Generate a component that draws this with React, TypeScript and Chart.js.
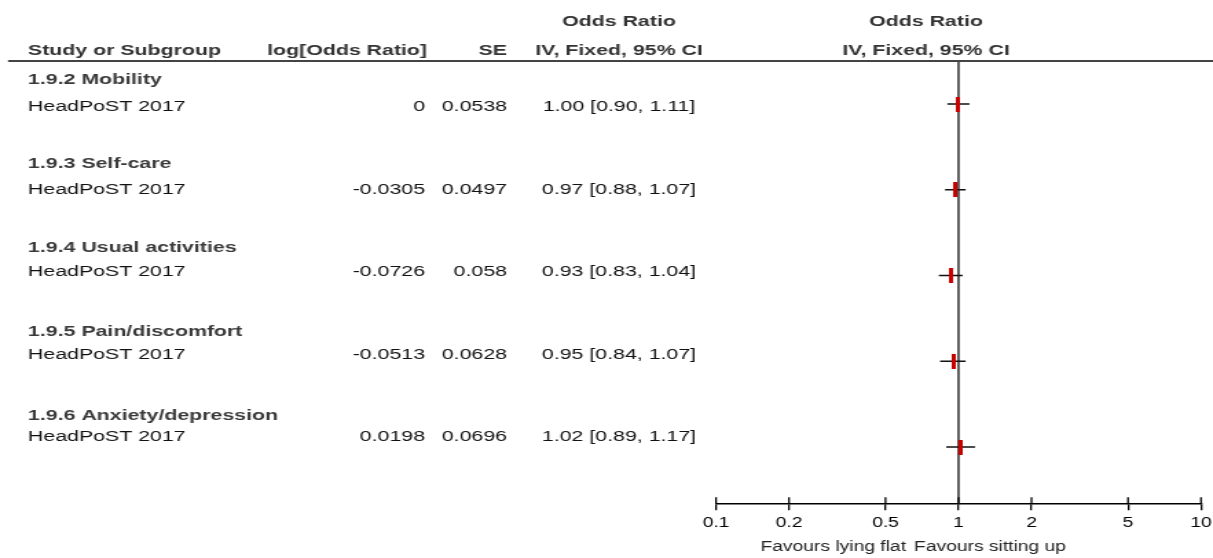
import React, { useEffect, useRef } from "react";
import { Chart, registerables } from "chart.js";

Chart.register(...registerables);

// ---------- data ----------
const subgroups = [
  "1.9.2 Mobility",
  "1.9.3 Self-care",
  "1.9.4 Usual activities",
  "1.9.5 Pain/discomfort",
  "1.9.6 Anxiety/depression",
];
const studies = ["HeadPoST 2017", "HeadPoST 2017", "HeadPoST 2017", "HeadPoST 2017", "HeadPoST 2017"];
const logOddsRatio = [0, -0.0305, -0.0726, -0.0513, 0.0198];
const standardErrors = [0.0538, 0.0497, 0.058, 0.0628, 0.0696];
const oddsRatios = [1.0, 0.97, 0.93, 0.95, 1.02];
const ciLower = [0.9, 0.88, 0.83, 0.84, 0.89];
const ciUpper = [1.11, 1.07, 1.04, 1.07, 1.17];
const xTicks = [0.1, 0.2, 0.5, 1, 2, 5, 10];
const headerTop = ["Odds Ratio", "Odds Ratio"];
const headerCols = ["Study or Subgroup", "log[Odds Ratio]", "SE", "IV, Fixed, 95% CI", "IV, Fixed, 95% CI"];
const favoursLeft = "Favours lying flat";
const favoursRight = "Favours sitting up";

// ---------- layout ----------
const PAGE_W = 1213;
const PAGE_H = 558;
const W = 882; // drawing width, stretched horizontally to the page width
const H = PAGE_H;
const S = PAGE_W / W;
const px = (pageX: number) => pageX / S;
const FONT = '"Liberation Sans", Arial, Helvetica, sans-serif';
const headingY = (i: number) => 80 + 84 * i;
const studyY = (i: number) => 107 + 82.5 * i;

export default function App() {
  const ref = useRef<HTMLCanvasElement | null>(null);

  useEffect(() => {
    const canvas = ref.current;
    if (!canvas) return;

    const box = document.createElement("canvas");
    box.width = 3;
    box.height = 15;
    const bctx = box.getContext("2d")!;
    bctx.fillStyle = "#c80000";
    bctx.fillRect(0, 0, 3, 15);

    const whiskers = oddsRatios.map((_, i) => ({
      type: "scatter" as const,
      data: [
        { x: ciLower[i], y: i },
        { x: ciUpper[i], y: i },
      ],
      showLine: true,
      borderColor: "#111",
      borderWidth: 1.5,
      pointRadius: 0,
    }));

    const tablePlugin = {
      id: "forestTable",
      beforeDatasetsDraw(chart: any) {
        const ctx = chart.ctx;
        const xs = chart.scales.x;
        const { top, bottom } = chart.chartArea;
        const x1 = xs.getPixelForValue(1);
        ctx.save();
        ctx.strokeStyle = "#3a3a3a";
        ctx.lineWidth = 1.6;
        ctx.beginPath();
        ctx.moveTo(x1, top);
        ctx.lineTo(x1, bottom);
        ctx.stroke();
        ctx.restore();
      },
      afterDraw(chart: any) {
        const ctx = chart.ctx;
        const xs = chart.scales.x;
        const { bottom } = chart.chartArea;
        ctx.save();

        // tick marks extending upward
        ctx.strokeStyle = "#000";
        ctx.lineWidth = 1.3;
        xTicks.forEach((v) => {
          const x = xs.getPixelForValue(v);
          ctx.beginPath();
          ctx.moveTo(x, bottom - 7);
          ctx.lineTo(x, bottom);
          ctx.stroke();
        });

        // header separator
        ctx.strokeStyle = "#444";
        ctx.lineWidth = 2;
        ctx.beginPath();
        ctx.moveTo(px(8), 61);
        ctx.lineTo(W, 61);
        ctx.stroke();

        ctx.textBaseline = "middle";
        // headers
        ctx.fillStyle = "#333";
        ctx.font = `bold 15.5px ${FONT}`;
        ctx.textAlign = "center";
        ctx.fillText(headerTop[0], px(619), 22);
        ctx.fillText(headerTop[1], px(926), 22);
        ctx.textAlign = "left";
        ctx.fillText(headerCols[0], px(28), 51);
        ctx.textAlign = "right";
        ctx.fillText(headerCols[1], px(427), 51);
        ctx.fillText(headerCols[2], px(507), 51);
        ctx.textAlign = "center";
        ctx.fillText(headerCols[3], px(619), 51);
        ctx.fillText(headerCols[4], px(926), 51);

        // rows
        subgroups.forEach((name, i) => {
          const yHead = headingY(i);
          const yRow = studyY(i);
          ctx.font = `bold 15.5px ${FONT}`;
          ctx.fillStyle = "#3a3a3a";
          ctx.textAlign = "left";
          ctx.fillText(name, px(28), yHead);

          ctx.font = `15.5px ${FONT}`;
          ctx.fillStyle = "#111";
          ctx.textAlign = "left";
          ctx.fillText(studies[i], px(28), yRow);
          ctx.textAlign = "right";
          ctx.fillText(String(logOddsRatio[i]), px(425), yRow);
          ctx.fillText(String(standardErrors[i]), px(507), yRow);
          ctx.textAlign = "center";
          ctx.fillText(
            `${oddsRatios[i].toFixed(2)} [${ciLower[i].toFixed(2)}, ${ciUpper[i].toFixed(2)}]`,
            px(619),
            yRow
          );
        });

        // favours labels
        ctx.font = `14px ${FONT}`;
        ctx.fillStyle = "#222";
        ctx.textAlign = "right";
        ctx.fillText(favoursLeft, px(906), 547);
        ctx.textAlign = "left";
        ctx.fillText(favoursRight, px(914), 547);
        ctx.restore();
      },
    };

    const chart = new Chart(canvas, {
      type: "scatter",
      data: {
        datasets: [
          {
            data: oddsRatios.map((v, i) => ({ x: v, y: i })),
            pointStyle: box as any,
            pointRadius: 5,
            borderWidth: 0,
          },
          ...whiskers,
        ] as any,
      },
      options: {
        responsive: false,
        animation: false,
        devicePixelRatio: 1,
        events: [],
        layout: { padding: { left: px(716), right: W - px(1201), top: 61, bottom: 21 } },
        plugins: { legend: { display: false }, tooltip: { enabled: false } },
        scales: {
          x: {
            type: "logarithmic",
            min: 0.1,
            max: 10,
            afterBuildTicks: (scale: any) => {
              scale.ticks = xTicks.map((v) => ({ value: v }));
            },
            afterFit: (scale: any) => {
              scale.paddingLeft = 0;
              scale.paddingRight = 0;
            },
            ticks: {
              autoSkip: false,
              maxRotation: 0,
              padding: 5,
              color: "#000",
              font: { family: FONT, size: 14 },
              callback: (v: any) => String(v),
            },
            grid: { drawOnChartArea: false, drawTicks: true, tickLength: 6, color: "#000", lineWidth: 1.3 },
            border: { display: true, color: "#000", width: 1.5 },
          },
          y: { type: "linear", min: -0.503, max: 4.667, reverse: true, display: false },
        },
      },
      plugins: [tablePlugin],
    });

    return () => chart.destroy();
  }, []);

  return (
    <div style={{ position: "absolute", left: 0, top: 0, width: PAGE_W, height: PAGE_H, background: "#fff" }}>
      <canvas ref={ref} width={W} height={H} style={{ width: PAGE_W + "px", height: PAGE_H + "px", display: "block" }} />
    </div>
  );
}
